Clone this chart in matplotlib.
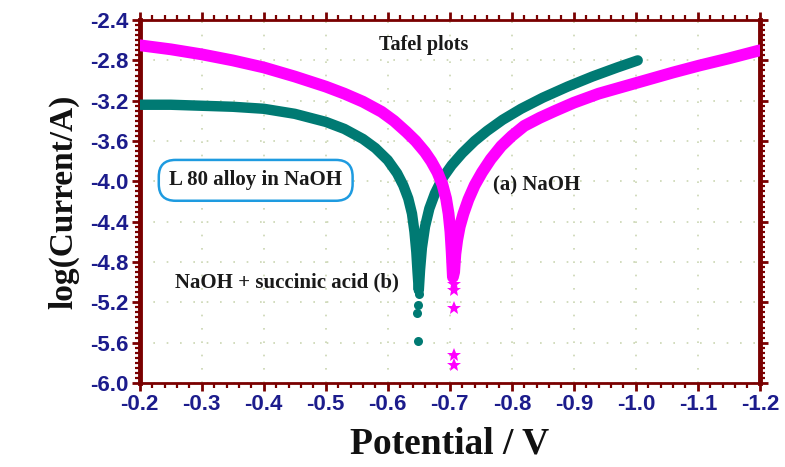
import matplotlib
matplotlib.use("Agg")
import matplotlib.pyplot as plt
from matplotlib.ticker import MultipleLocator, FormatStrFormatter

# ---- data ----
# (a) NaOH : dense band (anodic + cathodic branch)
naoh_potential = [-0.200, -0.250, -0.300, -0.350, -0.400, -0.450, -0.500, -0.530,
                  -0.560, -0.590, -0.610, -0.630, -0.645, -0.660, -0.670, -0.680,
                  -0.688, -0.694, -0.698, -0.701, -0.703, -0.705,
                  -0.707, -0.709, -0.712, -0.716, -0.722, -0.730, -0.740, -0.752,
                  -0.766, -0.783, -0.800, -0.820, -0.845, -0.870, -0.900, -0.940,
                  -0.980, -1.020, -1.060, -1.103, -1.150, -1.200]
naoh_logi = [-2.65, -2.69, -2.74, -2.80, -2.87, -2.96, -3.06, -3.13,
             -3.21, -3.31, -3.40, -3.51, -3.60, -3.71, -3.80, -3.91,
             -4.03, -4.17, -4.32, -4.50, -4.70, -4.95,
             -4.90, -4.72, -4.58, -4.45, -4.32, -4.18, -4.04, -3.91,
             -3.78, -3.65, -3.55, -3.45, -3.37, -3.30, -3.22, -3.13,
             -3.06, -2.99, -2.92, -2.85, -2.78, -2.70]
# (a) NaOH : isolated points near the corrosion potential
naoh_tail_potential = [-0.706, -0.707, -0.706, -0.706, -0.707]
naoh_tail_logi = [-5.02, -5.08, -5.26, -5.72, -5.82]

# (b) NaOH + succinic acid : dense band
succ_potential = [-0.200, -0.250, -0.300, -0.350, -0.400, -0.450, -0.500, -0.530,
                  -0.560, -0.580, -0.600, -0.615, -0.625, -0.633, -0.639, -0.643,
                  -0.646, -0.648, -0.650,
                  -0.652, -0.655, -0.660, -0.667, -0.676, -0.688, -0.703, -0.720,
                  -0.740, -0.760, -0.785, -0.815, -0.850, -0.890, -0.930, -0.970,
                  -1.003]
succ_logi = [-3.24, -3.24, -3.25, -3.26, -3.28, -3.33, -3.41, -3.48,
             -3.58, -3.67, -3.79, -3.92, -4.04, -4.17, -4.32, -4.50,
             -4.70, -4.90, -5.08,
             -4.88, -4.66, -4.45, -4.27, -4.12, -3.97, -3.84, -3.72,
             -3.60, -3.50, -3.39, -3.28, -3.17, -3.06, -2.96, -2.87,
             -2.80]
# (b) isolated points near the corrosion potential
succ_tail_potential = [-0.650, -0.648, -0.647, -0.649]
succ_tail_logi = [-5.12, -5.23, -5.31, -5.58]

x_ticks = [-0.2, -0.3, -0.4, -0.5, -0.6, -0.7, -0.8, -0.9, -1.0, -1.1, -1.2]
y_ticks = [-6.0, -5.6, -5.2, -4.8, -4.4, -4.0, -3.6, -3.2, -2.8, -2.4]

# ---- style ----
plt.rcParams['axes.unicode_minus'] = False
FRAME = '#7A0000'
TICKC = '#1C1C8C'
TEAL = '#007A73'
MAG = '#FF00FF'
serif = ['Liberation Serif', 'DejaVu Serif']
sans = ['Liberation Sans', 'DejaVu Sans']

fig = plt.figure(figsize=(7.85, 4.67), dpi=100)
ax = fig.add_axes([0.178, 0.180, 0.790, 0.777])

ax.plot(succ_potential, succ_logi, color=TEAL, lw=7.5, solid_capstyle='round',
        solid_joinstyle='round', zorder=3)
ax.plot(succ_tail_potential, succ_tail_logi, 'o', color=TEAL, ms=6.5, mew=0, zorder=3)
ax.plot(naoh_potential, naoh_logi, color=MAG, lw=8.5, solid_capstyle='round',
        solid_joinstyle='round', zorder=4)
ax.plot(naoh_tail_potential, naoh_tail_logi, '*', color=MAG, ms=10, mew=0, zorder=4)

ax.set_xlim(-0.2, -1.2)
ax.set_ylim(-6.0, -2.4)
ax.set_xticks(x_ticks)
ax.set_yticks(y_ticks)
ax.xaxis.set_major_formatter(FormatStrFormatter('%.1f'))
ax.yaxis.set_major_formatter(FormatStrFormatter('%.1f'))
ax.xaxis.set_minor_locator(MultipleLocator(0.02))
ax.yaxis.set_minor_locator(MultipleLocator(0.05))

ax.tick_params(which='both', direction='out', color=FRAME, top=True, right=True,
               labeltop=False, labelright=False)
ax.tick_params(which='major', length=6, width=2)
ax.tick_params(which='minor', length=3.5, width=1.6)
ax.tick_params(axis='both', which='major', labelsize=16, labelcolor=TICKC, pad=2)
for lab in ax.get_xticklabels() + ax.get_yticklabels():
    lab.set_fontfamily(sans)
    lab.set_fontweight('bold')

for side in ['left', 'right']:
    ax.spines[side].set_linewidth(3.5)
    ax.spines[side].set_color(FRAME)
for side in ['top', 'bottom']:
    ax.spines[side].set_linewidth(2.0)
    ax.spines[side].set_color(FRAME)

ax.grid(True, which='major', color='#CBD6B2', linestyle=(0, (1, 7)), lw=1.2, zorder=0)
ax.set_axisbelow(True)

ax.set_xlabel('Potential / V', fontsize=27, fontweight='bold', family=serif,
              color='#111111', labelpad=8)
ax.set_ylabel('log(Current/A)', fontsize=24, fontweight='bold', family=serif,
              color='#111111', labelpad=8)

tcol = '#1A1A1A'
ax.text(-0.658, -2.65, 'Tafel plots', fontsize=14.5, fontweight='bold', family=serif,
        color=tcol, ha='center', va='center', zorder=6)
ax.text(-0.387, -3.99, 'L 80 alloy in NaOH', fontsize=15, fontweight='bold', family=serif,
        color=tcol, ha='center', va='center', zorder=6,
        bbox=dict(boxstyle='round,pad=0.5,rounding_size=0.8', fc='white',
                  ec='#1E9BE0', lw=1.8))
ax.text(-0.840, -4.04, '(a) NaOH', fontsize=15, fontweight='bold', family=serif,
        color=tcol, ha='center', va='center', zorder=6)
ax.text(-0.437, -5.0, 'NaOH + succinic acid (b)', fontsize=15, fontweight='bold',
        family=serif, color=tcol, ha='center', va='center', zorder=6)

fig.savefig('out.png', dpi=100)
